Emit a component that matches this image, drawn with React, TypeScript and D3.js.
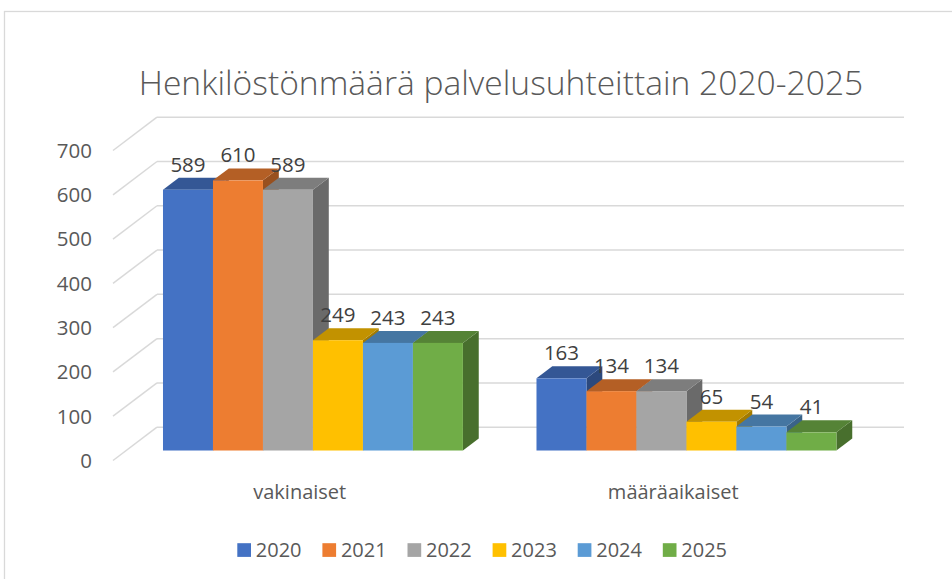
import React from 'react'
import * as d3 from 'd3'

const categories = ['vakinaiset', 'määräaikaiset']
const years = ['2020', '2021', '2022', '2023', '2024', '2025']
const values2020 = [589, 163]
const values2021 = [610, 134]
const values2022 = [589, 134]
const values2023 = [249, 65]
const values2024 = [243, 54]
const values2025 = [243, 41]
const yTicks = [0, 100, 200, 300, 400, 500, 600, 700]
const colors = ['#4472C4', '#ED7D31', '#A5A5A5', '#FFC000', '#5B9BD5', '#70AD47']

const series = [values2020, values2021, values2022, values2023, values2024, values2025]

function shade(c: string, k: number) {
    const r = d3.rgb(c)
    return d3.rgb(r.r * k, r.g * k, r.b * k).formatHex()
}

export default function App() {
    const width = 952,
        height = 579
    // floor front edge and full depth offset of the 3d box
    const left = 113, right = 860
    const depthX = 44, depthY = 33.3
    const zBar = 0.3, zDepth = 0.36

    const y = d3.scaleLinear().domain([0, 700]).range([460.5, 150.5])
    const x = d3.scaleBand().domain(categories).range([left, right]).padding(0)
    const groupW = x.bandwidth() * 0.803
    const xs = d3.scaleBand().domain(years).range([0, groupW])

    const font = "'Open Sans', 'Noto Sans', sans-serif"
    const bdx = zDepth * depthX, bdy = zDepth * depthY

    const barX = (c: string, si: number) =>
        (x(c) as number) + (x.bandwidth() - groupW) / 2 + (xs(years[si]) as number) + zBar * depthX

    return (
        <svg width={width} height={height} style={{ position: 'absolute', left: 0, top: 0, background: '#fff' }}>
            <rect x={4.5} y={11.5} width={980} height={620} fill='#fff' stroke='#d9d9d9' strokeWidth={1.3} />
            <text x={501} y={95} textAnchor='middle' fontFamily={font} fontWeight={300} fontSize={33.6} fill='#595959'>
                Henkilöstönmäärä palvelusuhteittain 2020-2025
            </text>

            {/* walls: grid lines */}
            <g stroke='#d9d9d9' strokeWidth={1.5} fill='none'>
                {yTicks.map(t => (
                    <g key={t}>
                        <line x1={left} y1={y(t)} x2={left + depthX} y2={y(t) - depthY} />
                        <line x1={left + depthX} y1={y(t) - depthY} x2={right + depthX} y2={y(t) - depthY} />
                    </g>
                ))}
            </g>
            <g fontFamily={font} fontSize={20.5} fill='#595959' textAnchor='end'>
                {yTicks.map(t => (
                    <text key={t} x={92} y={y(t)} dy='0.36em'>{t}</text>
                ))}
            </g>

            {/* bars, drawn left to right so the next front face hides the side */}
            {categories.map((c, ci) => (
                <g key={c}>
                    {series.map((s, si) => {
                        const x0 = barX(c, si)
                        const x1 = x0 + xs.bandwidth()
                        const yb = y(0) - zBar * depthY
                        const yt = y(s[ci]) - zBar * depthY
                        const col = colors[si]
                        return (
                            <g key={si}>
                                <path d={`M${x1},${yb}L${x1 + bdx},${yb - bdy}L${x1 + bdx},${yt - bdy}L${x1},${yt}Z`} fill={shade(col, 0.64)} />
                                <path d={`M${x0},${yt}L${x0 + bdx},${yt - bdy}L${x1 + bdx},${yt - bdy}L${x1},${yt}Z`} fill={shade(col, 0.76)} />
                                <rect x={x0} y={yt} width={x1 - x0} height={yb - yt} fill={col} />
                            </g>
                        )
                    })}
                </g>
            ))}

            {/* data labels */}
            <g fontFamily={font} fontSize={20.5} fill='#404040' textAnchor='middle'>
                {categories.map((c, ci) =>
                    series.map((s, si) => {
                        const yt = y(s[ci]) - zBar * depthY
                        return (
                            <text key={c + si} x={barX(c, si) + xs.bandwidth() / 2} y={yt - 18}>{s[ci]}</text>
                        )
                    })
                )}
            </g>

            <g fontFamily={font} fontSize={20} fill='#595959' textAnchor='middle'>
                {categories.map(c => (
                    <text key={c} x={(x(c) as number) + x.bandwidth() / 2} y={499}>{c}</text>
                ))}
            </g>

            {/* legend */}
            <g fontFamily={font} fontSize={20} fill='#595959'>
                {years.map((yr, i) => (
                    <g key={yr} transform={`translate(${237.3 + i * 85.1},550)`}>
                        <rect x={0} y={-6.8} width={13.7} height={13.7} fill={colors[i]} />
                        <text x={18.5} y={0} dy='0.36em'>{yr}</text>
                    </g>
                ))}
            </g>
        </svg>
    )
}
